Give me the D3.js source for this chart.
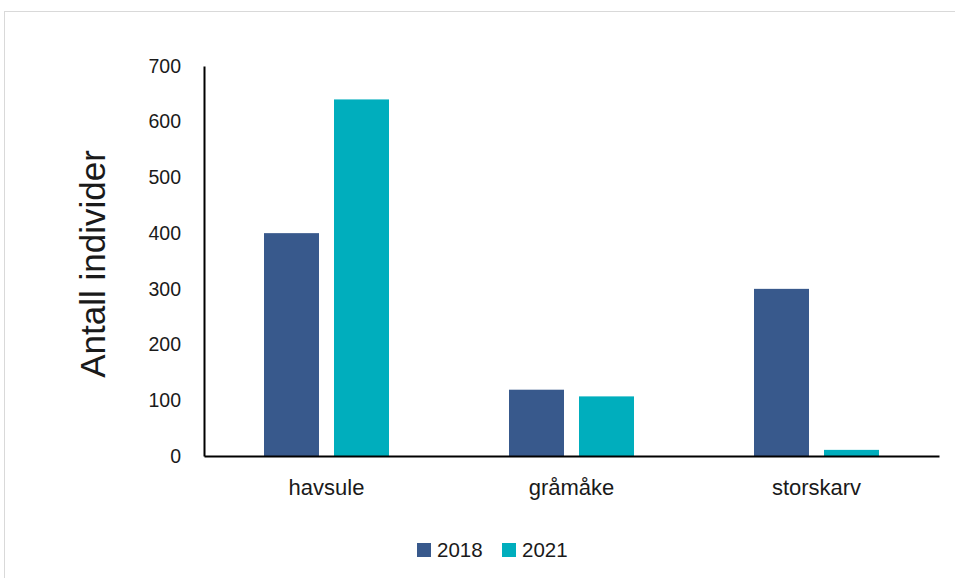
<!DOCTYPE html>
<html><head><meta charset="utf-8">
<script src="https://cdn.jsdelivr.net/npm/d3@7"></script>
<style>body{margin:0;background:#fff;} text{font-family:"Liberation Sans",Arial,sans-serif;fill:#1a1a1a;}</style>
</head><body>
<svg id="c" width="955" height="578"></svg>
<script>
const categories = ["havsule","gråmåke","storskarv"];
const seriesNames = ["2018","2021"];
const values2018 = [400,119,300];
const values2021 = [640,107,11];
const yTicks = [0,100,200,300,400,500,600,700];
const colors = ["#38598c","#00aebd"];

(function(){
const svg = d3.select("#c");
svg.append("rect").attr("x",4.5).attr("y",11.5).attr("width",960).attr("height",600)
  .attr("fill","none").attr("stroke","#d9d9d9").attr("stroke-width",1);

const mLeft=204, mRight=939, mTop=66, mBottom=456;
const x = d3.scaleBand().domain(categories).range([mLeft,mRight]).padding(0);
const bw = x.bandwidth();
const xi = d3.scaleBand().domain(seriesNames).range([60/245*bw, 185/245*bw]).paddingInner(15/70).paddingOuter(0);
const y = d3.scaleLinear().domain([0,700]).range([mBottom,mTop]);

const data = categories.map((c,i)=>({cat:c, vals:[values2018[i],values2021[i]]}));
const g = svg.selectAll("g.cat").data(data).join("g").attr("class","cat").attr("transform",d=>`translate(${x(d.cat)},0)`);
g.selectAll("rect").data(d=>d.vals.map((v,j)=>({s:seriesNames[j],v,j}))).join("rect")
  .attr("x",d=>xi(d.s)).attr("width",xi.bandwidth())
  .attr("y",d=>y(d.v)).attr("height",d=>y(0)-y(d.v))
  .attr("fill",d=>colors[d.j]);

const ya = svg.append("g").attr("transform",`translate(${mLeft},0)`)
  .call(d3.axisLeft(y).tickValues(yTicks).tickSize(0).tickPadding(23));
ya.select(".domain").attr("stroke","#000").attr("stroke-width",2);
ya.selectAll("text").attr("font-size",19.5).style("font-family","'Liberation Sans',Arial,sans-serif").attr("fill","#1a1a1a");

const xa = svg.append("g").attr("transform",`translate(0,${mBottom})`)
  .call(d3.axisBottom(x).tickSize(0));
xa.select(".domain").attr("stroke","#000").attr("stroke-width",2);
xa.selectAll("text").attr("font-size",22).attr("y",39).attr("dy",0)
  .style("font-family","'Liberation Sans',Arial,sans-serif").attr("fill","#1a1a1a");

svg.append("text").attr("transform","translate(105,264) rotate(-90)").attr("text-anchor","middle")
  .attr("font-size",35).attr("fill","#000").text("Antall individer");

const leg = svg.append("g");
const lx=[417,502];
seriesNames.forEach((s,i)=>{
  leg.append("rect").attr("x",lx[i]).attr("y",543).attr("width",14).attr("height",14).attr("fill",colors[i]);
  leg.append("text").attr("x",lx[i]+20).attr("y",557).attr("font-size",20.5).text(s);
});
})();
</script>
</body></html>
